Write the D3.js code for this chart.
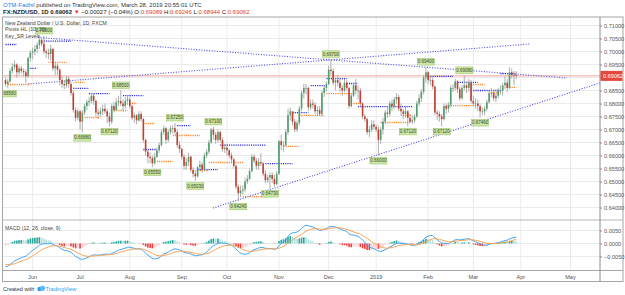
<!DOCTYPE html>
<html>
<head>
<meta charset="utf-8">
<script src="https://cdn.jsdelivr.net/npm/d3@7"></script>
<style>
  body { margin: 0; background: #fff; }
  svg { display: block; font-family: "Liberation Sans", Arial, sans-serif; }
</style>
</head>
<body>
<div id="chart"></div>
<script>
// NZDUSD daily candles, prices in pips (x 1e-4), one row per month
const firstOpenPips = 6890;
const closePips = [
  6875, 6885, 6925, 6940, 6950, 6920, 6935, 6925, 6920, 6905, 6975, 6995, // May 16-31
  7000, 7010, 7025, 7045, 7030, 7000, 6995, 6990, 7010, 6935, 6945, 6930, 6890, 6875, 6870, 6895, 6875, 6840, 6775, 6745, 6770, // Jun
  6730, 6765, 6790, 6805, 6810, 6830, 6810, 6765, 6760, 6770, 6780, 6770, 6750, 6730, 6790, 6775, 6805, 6810, 6800, 6790, 6810, 6815, // Jul
  6790, 6745, 6755, 6735, 6760, 6740, 6660, 6615, 6595, 6590, 6570, 6595, 6620, 6640, 6690, 6705, 6660, 6690, 6705, 6705, 6690, 6640, 6625, // Aug
  6595, 6560, 6575, 6595, 6545, 6530, 6520, 6555, 6565, 6545, 6600, 6615, 6650, 6700, 6680, 6660, 6690, 6660, 6625, 6630, // Sep
  6620, 6600, 6585, 6560, 6480, 6455, 6465, 6470, 6500, 6510, 6540, 6595, 6580, 6560, 6575, 6570, 6530, 6505, 6515, 6525, 6510, 6490, 6530, // Oct
  6655, 6640, 6640, 6690, 6755, 6770, 6730, 6700, 6725, 6780, 6840, 6860, 6860, 6785, 6800, 6795, 6770, 6775, 6760, 6840, 6860, 6875, // Nov
  6930, 6925, 6880, 6890, 6880, 6860, 6850, 6880, 6860, 6790, 6830, 6870, 6850, 6850, 6800, 6750, 6740, 6690, 6700, 6720, 6710, // Dec
  6700, 6660, 6700, 6730, 6765, 6760, 6800, 6790, 6815, 6825, 6780, 6770, 6760, 6770, 6745, 6730, 6735, 6750, 6800, 6820, 6845, 6900, 6920, // Jan
  6890, 6890, 6865, 6765, 6760, 6750, 6740, 6790, 6780, 6795, 6860, 6860, 6885, 6855, 6820, 6860, 6870, 6860, 6880, 6810, // Feb
  6800, 6800, 6790, 6770, 6770, 6780, 6805, 6840, 6840, 6820, 6830, 6850, 6850, 6870, 6880, 6860, 6920, 6910, 6908.9, 6906.2 // Mar 1-28
];
const highPips = [
  6900, 6895, 6935, 6955, 6966, 6955, 6945, 6945, 6935, 6930, 6980, 7005,
  7015, 7025, 7035, 7050, 7050, 7060, 7010, 7010, 7025, 7015, 6960, 6955, 6935, 6905, 6890, 6905, 6905, 6885, 6850, 6785, 6780,
  6775, 6775, 6800, 6815, 6825, 6842, 6840, 6815, 6780, 6785, 6795, 6800, 6780, 6765, 6800, 6805, 6820, 6830, 6850, 6815, 6825, 6830,
  6825, 6795, 6765, 6760, 6770, 6770, 6745, 6665, 6620, 6610, 6600, 6610, 6630, 6650, 6700, 6715, 6710, 6700, 6715, 6718, 6725, 6700, 6655,
  6630, 6605, 6590, 6610, 6600, 6555, 6545, 6560, 6580, 6575, 6610, 6625, 6660, 6705, 6710, 6690, 6700, 6695, 6670, 6645,
  6645, 6625, 6610, 6590, 6565, 6490, 6485, 6485, 6515, 6525, 6550, 6605, 6605, 6590, 6590, 6610, 6575, 6545, 6525, 6535, 6535, 6525, 6540,
  6660, 6680, 6655, 6700, 6780, 6785, 6770, 6740, 6735, 6790, 6850, 6875, 6875, 6865, 6815, 6815, 6805, 6790, 6790, 6850, 6870, 6885,
  6945, 6970, 6935, 6900, 6910, 6895, 6870, 6895, 6890, 6865, 6840, 6880, 6895, 6870, 6860, 6805, 6760, 6745, 6715, 6735, 6735,
  6720, 6715, 6710, 6745, 6775, 6785, 6810, 6815, 6825, 6840, 6835, 6800, 6780, 6790, 6775, 6760, 6755, 6760, 6810, 6835, 6855, 6910, 6940,
  6925, 6905, 6900, 6870, 6775, 6770, 6760, 6800, 6800, 6805, 6870, 6875, 6895, 6890, 6865, 6870, 6908, 6885, 6895, 6890,
  6830, 6820, 6815, 6800, 6785, 6790, 6815, 6850, 6860, 6850, 6840, 6860, 6870, 6880, 6905, 6895, 6939, 6935, 6925, 6924.6
];
const lowPips = [
  6865, 6858, 6880, 6915, 6930, 6900, 6910, 6915, 6905, 6880, 6900, 6960,
  6970, 6985, 6995, 7010, 7020, 6990, 6975, 6970, 6965, 6925, 6910, 6910, 6870, 6860, 6855, 6860, 6860, 6830, 6765, 6730, 6735,
  6700, 6688, 6755, 6775, 6790, 6800, 6795, 6750, 6740, 6750, 6755, 6760, 6725, 6712, 6720, 6765, 6770, 6790, 6790, 6770, 6780, 6795,
  6780, 6735, 6725, 6720, 6730, 6730, 6650, 6600, 6570, 6570, 6555, 6565, 6590, 6610, 6635, 6680, 6645, 6650, 6680, 6685, 6680, 6630, 6610,
  6585, 6545, 6545, 6560, 6535, 6515, 6503, 6515, 6540, 6535, 6540, 6590, 6605, 6645, 6660, 6645, 6650, 6650, 6615, 6610,
  6600, 6590, 6570, 6550, 6470, 6424, 6440, 6450, 6460, 6490, 6505, 6535, 6570, 6545, 6545, 6560, 6520, 6495, 6495, 6473, 6495, 6480, 6485,
  6525, 6620, 6615, 6635, 6680, 6735, 6715, 6690, 6690, 6715, 6770, 6820, 6835, 6770, 6775, 6780, 6760, 6755, 6755, 6750, 6825, 6845,
  6870, 6910, 6870, 6850, 6865, 6845, 6830, 6845, 6850, 6780, 6785, 6825, 6835, 6815, 6790, 6740, 6730, 6680, 6670, 6690, 6700,
  6690, 6600, 6645, 6680, 6720, 6745, 6750, 6770, 6780, 6800, 6770, 6755, 6740, 6745, 6712, 6725, 6720, 6725, 6745, 6790, 6805, 6835, 6880,
  6875, 6870, 6855, 6755, 6735, 6730, 6712, 6735, 6760, 6765, 6785, 6845, 6850, 6840, 6810, 6815, 6850, 6840, 6845, 6800,
  6790, 6780, 6770, 6746, 6755, 6755, 6770, 6800, 6825, 6810, 6805, 6820, 6835, 6830, 6855, 6845, 6855, 6895, 6870, 6894.4
];

// Pivots HL (10, 10): bar indexes of the labelled highs and lows
const pivotHighBars = [17, 51, 75, 92, 144, 186, 203];
const pivotLowBars = [1, 34, 46, 65, 84, 103, 117, 165, 178, 193, 210];

// Key_SR levels: [from bar, to bar, level in pips]
const resistanceLevels = [
  [0, 5, 7027], [17, 29, 7040], [10, 14, 6935], [30, 37, 6858], [37, 46, 6838], [52, 61, 6830],
  [61, 67, 6623], [76, 82, 6715], [85, 94, 6546], [95, 115, 6640], [115, 127, 6569], [127, 134, 6765],
  [135, 142, 6869], [142, 151, 6896], [151, 156, 6877], [156, 180, 6788], [187, 198, 6904],
  [200, 209, 6881], [207, 220, 6850], [219, 226, 6915]
];
const supportLevels = [
  [1, 11, 6873], [19, 27, 6958], [30, 35, 6881], [35, 42, 6746], [48, 54, 6773], [55, 58, 6800],
  [61, 66, 6723], [67, 74, 6577], [74, 86, 6677], [86, 90, 6542], [90, 105, 6573], [105, 118, 6442],
  [123, 130, 6635], [130, 141, 6754], [142, 154, 6838], [154, 158, 6800], [166, 179, 6727],
  [175, 180, 6754], [195, 208, 6792], [205, 212, 6873], [215, 219, 6842], [222, 226, 6862]
];

// drawn trend lines: [bar, price, bar, price]
const trendLines = [
  [14.4, 0.7054, 248.5, 0.6898],
  [10.0, 0.6875, 232.0, 0.7029],
  [91.8, 0.6398, 263.0, 0.6879]
];

// MACD(12, 26, close, 9) running state at the first bar
const ema12Seed = 0.6950, ema26Seed = 0.7040, signalSeed = -0.0078;

const monthLabels = ["Jun", "Jul", "Aug", "Sep", "Oct", "Nov", "Dec", "2019", "Feb", "Mar", "Apr", "May"];
const priceTicks = d3.range(0.640, 0.71001, 0.005);
const macdTicks = [-0.005, 0, 0.005];

const width = 625, height = 295;
const pLeft = 2.5, pRight = 600, pTop = 17, mainBottom = 220, macdBottom = 270.5, frameBottom = 281.5;
const upColor = "#4f9d6c", downColor = "#c63d2f";

// trading days (weekdays) from the first bar on, extended into the future
const days = d3.timeDay.range(new Date(2018, 4, 16), new Date(2019, 5, 1)).filter(d => d.getDay() % 6 !== 0);

const bars = closePips.map((c, i) => ({
  i,
  open: (i ? closePips[i - 1] : firstOpenPips) / 1e4,
  close: c / 1e4,
  high: highPips[i] / 1e4,
  low: lowPips[i] / 1e4
}));
const last = bars[bars.length - 1];

// MACD
let e12 = ema12Seed, e26 = ema26Seed, sig = signalSeed;
bars.forEach(b => {
  e12 += (b.close - e12) * 2 / 13;
  e26 += (b.close - e26) * 2 / 27;
  b.macd = e12 - e26;
  sig += (b.macd - sig) * 2 / 10;
  b.signal = sig;
  b.hist = b.macd - sig;
});

const x = d3.scaleLinear().domain([0, 226]).range([5.5, 5.5 + 226 * 2.26]);
const y = d3.scaleLinear().domain([0.64, 0.71]).range([207.5, 25.5]);
const yM = d3.scaleLinear().domain([-0.005, 0.005]).range([256.5, 230.5]);

// first bar of every month
const monthTicks = [];
days.forEach((d, i) => {
  if (i > 0 && d.getMonth() !== days[i - 1].getMonth()) monthTicks.push(i);
});

const svg = d3.select("#chart").append("svg")
  .attr("width", width).attr("height", height)
  .style("background", "#fff");

svg.append("clipPath").attr("id", "mainClip").append("rect")
  .attr("x", pLeft).attr("y", pTop).attr("width", pRight - pLeft).attr("height", mainBottom - pTop);
svg.append("clipPath").attr("id", "macdClip").append("rect")
  .attr("x", pLeft).attr("y", mainBottom).attr("width", pRight - pLeft).attr("height", macdBottom - mainBottom);

// grid
const grid = svg.append("g").attr("stroke", "#ebebeb").attr("stroke-width", 1);
grid.selectAll("line.v").data(monthTicks).join("line").attr("class", "v")
  .attr("x1", d => x(d)).attr("x2", d => x(d)).attr("y1", pTop).attr("y2", macdBottom);
grid.selectAll("line.h").data(priceTicks).join("line").attr("class", "h")
  .attr("x1", pLeft).attr("x2", pRight).attr("y1", d => y(d)).attr("y2", d => y(d));
grid.selectAll("line.m").data(macdTicks).join("line").attr("class", "m")
  .attr("x1", pLeft).attr("x2", pRight).attr("y1", d => yM(d)).attr("y2", d => yM(d));

const main = svg.append("g").attr("clip-path", "url(#mainClip)");

// last price line
main.append("line")
  .attr("x1", pLeft).attr("x2", pRight).attr("y1", y(last.close)).attr("y2", y(last.close))
  .attr("stroke", "#f2a49c").attr("stroke-width", 1);

// trend lines
main.selectAll("line.trend").data(trendLines).join("line").attr("class", "trend")
  .attr("x1", d => x(d[0])).attr("y1", d => y(d[1]))
  .attr("x2", d => x(d[2])).attr("y2", d => y(d[3]))
  .attr("stroke", "#4a4af5").attr("stroke-width", 1.1).attr("stroke-dasharray", "1,1.6");

// key S/R levels
const drawLevels = (levels, color) => {
  main.append("g").selectAll("line").data(levels).join("line")
    .attr("x1", d => x(d[0])).attr("x2", d => x(d[1]))
    .attr("y1", d => y(d[2] / 1e4)).attr("y2", d => y(d[2] / 1e4))
    .attr("stroke", color).attr("stroke-width", 1.3).attr("stroke-dasharray", "1.1,1.1");
};
drawLevels(resistanceLevels, "#1f1fe6");
drawLevels(supportLevels, "#ff7a1a");

// candles
main.selectAll("line.wick").data(bars).join("line").attr("class", "wick")
  .attr("x1", d => x(d.i)).attr("x2", d => x(d.i))
  .attr("y1", d => y(d.high)).attr("y2", d => y(d.low))
  .attr("stroke", "#9a9a9a").attr("stroke-width", 0.8);
main.selectAll("rect.body").data(bars).join("rect").attr("class", "body")
  .attr("x", d => x(d.i) - 0.8).attr("width", 1.6)
  .attr("y", d => y(Math.max(d.open, d.close)))
  .attr("height", d => Math.max(0.8, Math.abs(y(d.open) - y(d.close))))
  .attr("fill", d => d.close >= d.open ? upColor : downColor);

// pivot labels
const pivotLabel = (idx, isHigh) => {
  const b = bars[idx];
  const cx = x(idx);
  const by = isHigh ? y(b.high) - 8.5 : y(b.low) + 2;
  const g = main.append("g");
  g.append("rect").attr("x", cx - 8.5).attr("y", by).attr("width", 17).attr("height", 6.5)
    .attr("fill", "#cfe6a8").attr("stroke", "#8fbf5a").attr("stroke-width", 0.5);
  g.append("text").attr("x", cx).attr("y", by + 4.8).attr("text-anchor", "middle")
    .attr("font-size", 4.5).attr("fill", "#2f4a1a")
    .text((isHigh ? b.high : b.low).toFixed(5));
};
pivotHighBars.forEach(i => pivotLabel(i, true));
pivotLowBars.forEach(i => pivotLabel(i, false));

// MACD pane
const macdG = svg.append("g").attr("clip-path", "url(#macdClip)");
macdG.selectAll("rect").data(bars).join("rect")
  .attr("x", d => x(d.i) - 0.8).attr("width", 1.6)
  .attr("y", d => yM(Math.max(0, d.hist)))
  .attr("height", d => Math.abs(yM(d.hist) - yM(0)))
  .attr("fill", (d, i) => {
    const prev = i ? bars[i - 1].hist : d.hist;
    if (d.hist >= 0) return d.hist >= prev ? "#26a69a" : "#b2dfdb";
    return d.hist < prev ? "#f23b3b" : "#ffcdd2";
  });
macdG.append("path").datum(bars)
  .attr("d", d3.line().x(d => x(d.i)).y(d => yM(d.macd)))
  .attr("fill", "none").attr("stroke", "#3fa5f2").attr("stroke-width", 1);
macdG.append("path").datum(bars)
  .attr("d", d3.line().x(d => x(d.i)).y(d => yM(d.signal)))
  .attr("fill", "none").attr("stroke", "#f7a254").attr("stroke-width", 1);

// frame and separators
const frame = svg.append("g").attr("fill", "none");
frame.append("rect").attr("x", pLeft).attr("y", pTop).attr("width", 623 - pLeft).attr("height", frameBottom - pTop)
  .attr("stroke", "#a6a6a6");
frame.append("line").attr("x1", pLeft).attr("x2", 623).attr("y1", mainBottom).attr("y2", mainBottom).attr("stroke", "#b8b8b8");
frame.append("line").attr("x1", pLeft).attr("x2", 623).attr("y1", macdBottom).attr("y2", macdBottom).attr("stroke", "#a6a6a6");
frame.append("line").attr("x1", pRight).attr("x2", pRight).attr("y1", pTop).attr("y2", frameBottom).attr("stroke", "#8c8c8c");

// price axis (the label under the last price tag is hidden, as on the chart)
const tagY = y(last.close);
const priceAxis = svg.append("g").attr("transform", `translate(${pRight},0)`)
  .call(d3.axisRight(y).tickValues(priceTicks)
    .tickFormat(d => Math.abs(y(d) - tagY) < 7 ? "" : d3.format(".5f")(d))
    .tickSize(2).tickPadding(2));
priceAxis.select(".domain").remove();
priceAxis.selectAll("line").attr("stroke", "#888");
priceAxis.selectAll("text").attr("font-size", 5.6).attr("fill", "#555").attr("font-family", "Liberation Sans, Arial, sans-serif");

const macdAxis = svg.append("g").attr("transform", `translate(${pRight},0)`)
  .call(d3.axisRight(yM).tickValues(macdTicks).tickFormat(d3.format(".4f")).tickSize(2).tickPadding(2));
macdAxis.select(".domain").remove();
macdAxis.selectAll("line").attr("stroke", "#888");
macdAxis.selectAll("text").attr("font-size", 5.6).attr("fill", "#555").attr("font-family", "Liberation Sans, Arial, sans-serif");

// last price tag
svg.append("rect").attr("x", pRight + 0.5).attr("y", tagY - 5).attr("width", 22).attr("height", 10)
  .attr("fill", "#e5483a");
svg.append("text").attr("x", pRight + 3).attr("y", tagY + 2)
  .attr("font-size", 5.6).attr("fill", "#fff").text(last.close.toFixed(5));

// time axis
svg.append("g").selectAll("text").data(monthTicks).join("text")
  .attr("x", d => x(d)).attr("y", 278.5).attr("text-anchor", "middle")
  .attr("font-size", 5.6).attr("fill", "#555")
  .text((d, k) => monthLabels[k]);

// pane titles
const titles = svg.append("g").attr("font-size", 5.2).attr("fill", "#444");
titles.append("text").attr("x", 5).attr("y", 24.5).text("New Zealand Dollar / U.S. Dollar, 1D, FXCM");
titles.append("text").attr("x", 5).attr("y", 31).text("Pivots HL (10, 10)");
titles.append("text").attr("x", 5).attr("y", 37.5).text("Key_SR Levels");
titles.append("text").attr("x", 5).attr("y", 229.5).text("MACD (12, 26, close, 9)");

// header
const change = last.close - last.open;
const fmt5 = d3.format(".5f");
const h1 = svg.append("text").attr("x", 3).attr("y", 7).attr("font-size", 6).attr("fill", "#333");
h1.append("tspan").attr("fill", "#2a7be4").text("OTM-Fadhil");
h1.append("tspan").text(" published on TradingView.com, March 28, 2019 20:55:01 UTC");

const h2 = svg.append("text").attr("x", 3).attr("y", 14).attr("font-size", 6).attr("fill", "#222");
h2.append("tspan").attr("font-weight", "bold").text(`FX:NZDUSD, 1D ${fmt5(last.close)} `);
h2.append("tspan").attr("fill", "#e03a2e").text("▼");
h2.append("tspan").text(` ${fmt5(change)} (${d3.format(".2f")(change / last.open * 100)}%) O:`);
h2.append("tspan").attr("fill", "#e03a2e").text(fmt5(last.open));
h2.append("tspan").text(" H:");
h2.append("tspan").attr("fill", "#e03a2e").text(fmt5(last.high));
h2.append("tspan").text(" L:");
h2.append("tspan").attr("fill", "#e03a2e").text(fmt5(last.low));
h2.append("tspan").text(" C:");
h2.append("tspan").attr("fill", "#e03a2e").text(fmt5(last.close));

// footer
const foot = svg.append("g");
foot.append("text").attr("x", 3).attr("y", 291).attr("font-size", 5.6).attr("fill", "#333").text("Created with");
foot.append("circle").attr("cx", 39.5).attr("cy", 289).attr("r", 2.2).attr("fill", "#2a9df4");
foot.append("circle").attr("cx", 42.5).attr("cy", 288.3).attr("r", 2.6).attr("fill", "#5cb8f7");
foot.append("text").attr("x", 45.5).attr("y", 291).attr("font-size", 5.6).attr("fill", "#2a9df4").text("TradingView");
</script>
</body>
</html>
